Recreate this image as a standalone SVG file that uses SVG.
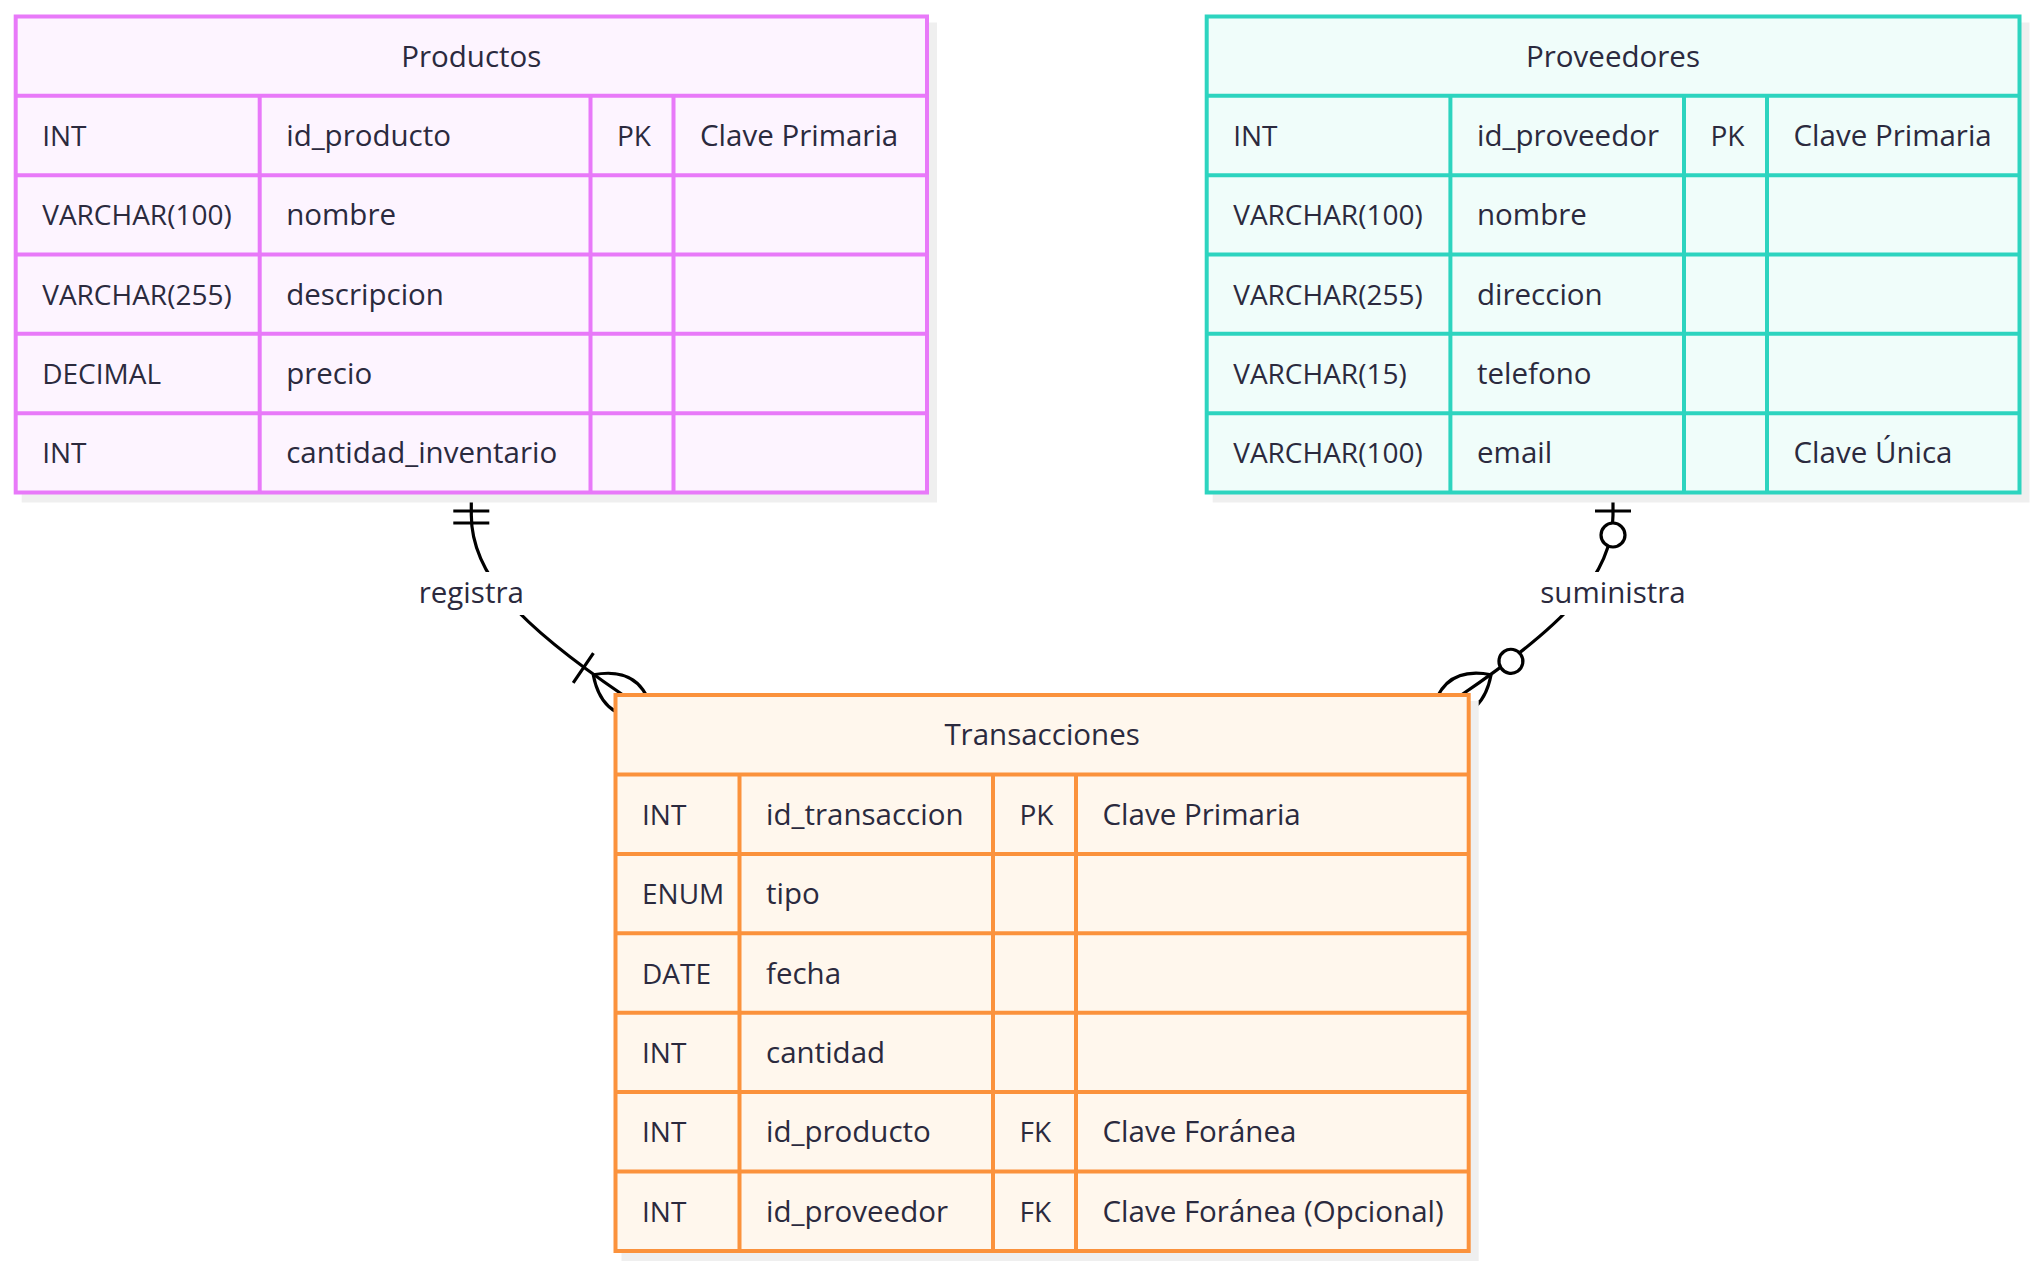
<svg xmlns="http://www.w3.org/2000/svg" width="2036" height="1267" viewBox="0 0 2036 1267">
<style>
.t{font-family:"Open Sans","Noto Sans","Liberation Sans",sans-serif;font-size:29.5px;fill:#2b2a3e}
.k{font-size:28px}
.c{text-anchor:middle}
.sh{fill:#efefef}
.pr rect.b{fill:#fdf4ff;stroke:#e879f9;stroke-width:4}
.pr line{stroke:#e879f9;stroke-width:4}
.pv rect.b{fill:#f0fdfa;stroke:#2dd4bf;stroke-width:4}
.pv line{stroke:#2dd4bf;stroke-width:4}
.tr rect.b{fill:#fff7ed;stroke:#fb923c;stroke-width:4}
.tr line{stroke:#fb923c;stroke-width:4}
.e{fill:none;stroke:#000;stroke-width:3.2}
.m{fill:none;stroke:#000;stroke-width:1.6}
.mc{fill:#fff;stroke:#000;stroke-width:1.6}
.lb{fill:#fff}
</style>
<defs>
<marker id="onlyOneStart" markerUnits="userSpaceOnUse" viewBox="0 0 18 18" markerWidth="36" markerHeight="36" refX="0" refY="9" orient="auto" overflow="visible"><path class="m" d="M9,0 L9,18 M15,0 L15,18"/></marker>
<marker id="zeroOrOneStart" markerUnits="userSpaceOnUse" viewBox="0 0 30 18" markerWidth="60" markerHeight="36" refX="0" refY="9" orient="auto" overflow="visible"><circle class="mc" cx="21" cy="9" r="6"/><path class="m" d="M9,0 L9,18"/></marker>
<marker id="oneOrMoreEnd" markerUnits="userSpaceOnUse" viewBox="0 0 45 36" markerWidth="90" markerHeight="72" refX="27" refY="18" orient="auto" overflow="visible"><path class="m" d="M3,9 L3,27 M9,18 Q27,0 45,18 Q27,36 9,18"/></marker>
<marker id="zeroOrMoreEnd" markerUnits="userSpaceOnUse" viewBox="0 0 57 36" markerWidth="114" markerHeight="72" refX="39" refY="18" orient="auto" overflow="visible"><circle class="mc" cx="9" cy="18" r="6"/><path class="m" d="M21,18 Q39,0 57,18 Q39,36 21,18"/></marker>
</defs>
<rect width="2036" height="1267" fill="#fff"/>

<g id="connectors">
<path id="e-registra" class="e" d="M471.3,493 L471.3,515 C471.3,575 520,625 623,695" marker-start="url(#onlyOneStart)" marker-end="url(#oneOrMoreEnd)"/>
<path id="e-suministra" class="e" d="M1613,493 L1613,515 C1613,575 1564.3,625 1461.3,695" marker-start="url(#zeroOrOneStart)" marker-end="url(#zeroOrMoreEnd)"/>
<g id="label-registra"><rect class="lb" x="413" y="572" width="117" height="43"/><text class="t c" x="471.3" y="603">registra</text></g>
<g id="label-suministra"><rect class="lb" x="1535" y="572" width="156" height="43"/><text class="t c" x="1613" y="603">suministra</text></g>
</g>

<g id="Productos" class="pr">
<rect class="sh" x="21.7" y="22.5" width="915.3" height="480"/>
<rect class="b" x="15.7" y="16.5" width="911.3" height="476"/>
<line x1="15.7" y1="95.8" x2="927" y2="95.8"/>
<line x1="15.7" y1="175.2" x2="927" y2="175.2"/>
<line x1="15.7" y1="254.5" x2="927" y2="254.5"/>
<line x1="15.7" y1="333.8" x2="927" y2="333.8"/>
<line x1="15.7" y1="413.2" x2="927" y2="413.2"/>
<line x1="259.7" y1="95.8" x2="259.7" y2="492.5"/>
<line x1="590.5" y1="95.8" x2="590.5" y2="492.5"/>
<line x1="673.5" y1="95.8" x2="673.5" y2="492.5"/>
<text class="t c" x="471.3" y="66.5">Productos</text>
<text class="t k" x="42.2" y="146">INT</text><text class="t" x="286.2" y="146">id_producto</text><text class="t k" x="617" y="146">PK</text><text class="t" x="700" y="146">Clave Primaria</text>
<text class="t k" x="42.2" y="225.3">VARCHAR(100)</text><text class="t" x="286.2" y="225.3">nombre</text>
<text class="t k" x="42.2" y="304.7">VARCHAR(255)</text><text class="t" x="286.2" y="304.7">descripcion</text>
<text class="t k" x="42.2" y="384">DECIMAL</text><text class="t" x="286.2" y="384">precio</text>
<text class="t k" x="42.2" y="463.3">INT</text><text class="t" x="286.2" y="463.3">cantidad_inventario</text>
</g>

<g id="Proveedores" class="pv">
<rect class="sh" x="1212.7" y="22.5" width="816.8" height="480"/>
<rect class="b" x="1206.7" y="16.5" width="812.8" height="476"/>
<line x1="1206.7" y1="95.8" x2="2019.5" y2="95.8"/>
<line x1="1206.7" y1="175.2" x2="2019.5" y2="175.2"/>
<line x1="1206.7" y1="254.5" x2="2019.5" y2="254.5"/>
<line x1="1206.7" y1="333.8" x2="2019.5" y2="333.8"/>
<line x1="1206.7" y1="413.2" x2="2019.5" y2="413.2"/>
<line x1="1450.4" y1="95.8" x2="1450.4" y2="492.5"/>
<line x1="1684" y1="95.8" x2="1684" y2="492.5"/>
<line x1="1767" y1="95.8" x2="1767" y2="492.5"/>
<text class="t c" x="1613" y="66.5">Proveedores</text>
<text class="t k" x="1233.2" y="146">INT</text><text class="t" x="1477" y="146">id_proveedor</text><text class="t k" x="1710.5" y="146">PK</text><text class="t" x="1793.5" y="146">Clave Primaria</text>
<text class="t k" x="1233.2" y="225.3">VARCHAR(100)</text><text class="t" x="1477" y="225.3">nombre</text>
<text class="t k" x="1233.2" y="304.7">VARCHAR(255)</text><text class="t" x="1477" y="304.7">direccion</text>
<text class="t k" x="1233.2" y="384">VARCHAR(15)</text><text class="t" x="1477" y="384">telefono</text>
<text class="t k" x="1233.2" y="463.3">VARCHAR(100)</text><text class="t" x="1477" y="463.3">email</text><text class="t" x="1793.5" y="463.3">Clave Única</text>
</g>

<g id="Transacciones" class="tr">
<rect class="sh" x="621.5" y="701" width="857.2" height="560"/>
<rect class="b" x="615.5" y="695" width="853.2" height="556"/>
<line x1="615.5" y1="774.4" x2="1468.7" y2="774.4"/>
<line x1="615.5" y1="853.9" x2="1468.7" y2="853.9"/>
<line x1="615.5" y1="933.3" x2="1468.7" y2="933.3"/>
<line x1="615.5" y1="1012.7" x2="1468.7" y2="1012.7"/>
<line x1="615.5" y1="1092.1" x2="1468.7" y2="1092.1"/>
<line x1="615.5" y1="1171.6" x2="1468.7" y2="1171.6"/>
<line x1="739.5" y1="774.4" x2="739.5" y2="1251"/>
<line x1="993" y1="774.4" x2="993" y2="1251"/>
<line x1="1076" y1="774.4" x2="1076" y2="1251"/>
<text class="t c" x="1042.1" y="745.2">Transacciones</text>
<text class="t k" x="642" y="824.6">INT</text><text class="t" x="766" y="824.6">id_transaccion</text><text class="t k" x="1019.5" y="824.6">PK</text><text class="t" x="1102.5" y="824.6">Clave Primaria</text>
<text class="t k" x="642" y="904.1">ENUM</text><text class="t" x="766" y="904.1">tipo</text>
<text class="t k" x="642" y="983.5">DATE</text><text class="t" x="766" y="983.5">fecha</text>
<text class="t k" x="642" y="1062.9">INT</text><text class="t" x="766" y="1062.9">cantidad</text>
<text class="t k" x="642" y="1142.4">INT</text><text class="t" x="766" y="1142.4">id_producto</text><text class="t k" x="1019.5" y="1142.4">FK</text><text class="t" x="1102.5" y="1142.4">Clave Foránea</text>
<text class="t k" x="642" y="1221.8">INT</text><text class="t" x="766" y="1221.8">id_proveedor</text><text class="t k" x="1019.5" y="1221.8">FK</text><text class="t" x="1102.5" y="1221.8">Clave Foránea (Opcional)</text>
</g>
</svg>
